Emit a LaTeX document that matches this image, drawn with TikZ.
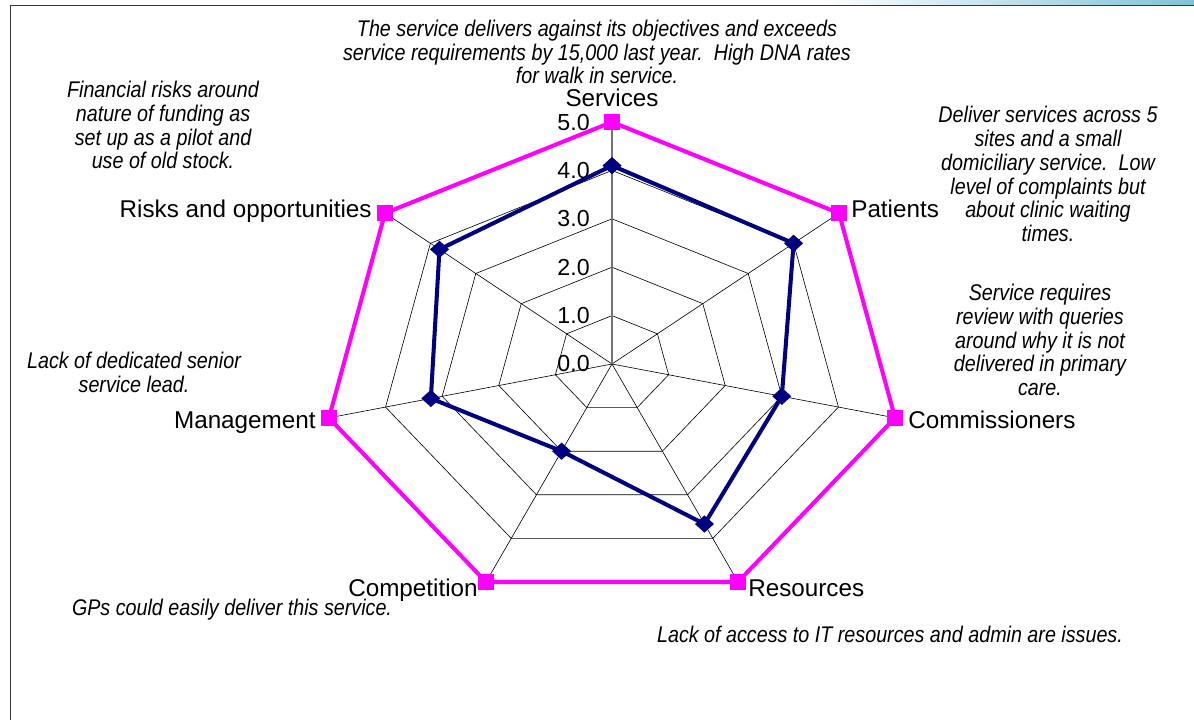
\documentclass[tikz,border=0pt]{standalone}
\usepackage{fontspec}
\setmainfont{Liberation Sans}
\newfontfamily\notefont[FakeStretch=0.87]{Liberation Sans}
\usetikzlibrary{shapes.geometric, positioning, calc}
\definecolor{scoreblue}{RGB}{0,0,128}
\definecolor{targetpink}{RGB}{255,0,255}
\definecolor{stripblue}{RGB}{128,194,214}
\definecolor{framegray}{RGB}{55,55,55}
\tikzset{
    gridline/.style={black, line width=0.35pt},
    valueaxis/.style={black!55, line width=0.6pt},
    ticklabel/.style={font=\fontsize{13.2}{16}\selectfont, anchor=east, inner sep=0pt},
    catlabel/.style={font=\fontsize{13.8}{16}\selectfont, inner sep=0pt, text depth=0pt},
    notebox/.style={font=\notefont\itshape\fontsize{12.9}{13.6}\selectfont, align=center, inner sep=0pt},
}

\begin{document}
\begin{tikzpicture}[
  x=0.02cm, y=-0.02cm,
  % Scored series (navy, diamonds)
  scoreline/.style={scoreblue, line width=2.3pt, line join=round},
  scoremark/.style={diamond, fill=scoreblue, minimum width=11pt, minimum height=10pt, inner sep=0pt},
  % Target series (magenta, squares)
  targetline/.style={targetpink, line width=2.3pt},
  targetmark/.style={rectangle, fill=targetpink, minimum size=8.8pt, inner sep=0pt}
]
\useasboundingbox (0,0) rectangle (1194,720);

% Slide frame
\shade[left color=white, right color=stripblue] (820,0) rectangle (1194,4.5);
\draw[framegray, line width=1.1pt] (10.5,720) -- (10.5,5.5) -- (1194,5.5);

% Radar chart
\begin{scope}[shift={(612,364)}, x=1.1616cm, y=0.968cm]
  \coordinate (centre) at (0,0);
  \foreach \r in {1,...,5}
    \draw[gridline] (90:\r) \foreach \k in {1,...,6} { -- ({90-\k*360/7}:\r) } -- cycle;
  \foreach \k in {1,...,6}
    \draw[gridline] (centre) -- ({90-\k*360/7}:5);
  \draw[valueaxis] (centre) -- (90:5);
  \foreach \r in {0,...,5}
    \node[ticklabel, xshift=-4.4mm] (tick\r) at (0,\r) {\r.0};

  \foreach \name/\val [count=\i from 0] in {svc/4.1, pat/4.0, com/3.0, res/3.67, cmp/2.0, mgt/3.2, rsk/3.8} {
    \coordinate (\name-s) at ({90-\i*360/7}:\val);
    \coordinate (\name-t) at ({90-\i*360/7}:5);
  }
\end{scope}

% Target line
\draw[targetline] (svc-t) -- (pat-t) -- (com-t) -- (res-t) -- (cmp-t) -- (mgt-t) -- (rsk-t) -- cycle;
\foreach \name in {svc,pat,com,res,cmp,mgt,rsk}
  \node[targetmark] (\name-tm) at (\name-t) {};

% Score line
\draw[scoreline] (svc-s) -- (pat-s) -- (com-s) -- (res-s) -- (cmp-s) -- (mgt-s) -- (rsk-s) -- cycle;
\foreach \name in {svc,pat,com,res,cmp,mgt,rsk}
  \node[scoremark] (\name-sm) at (\name-s) {};

% Category labels
\node[catlabel, above=3mm of svc-t] (services) {Services};
\node[catlabel, right=2.4mm of pat-t, yshift=0.8mm] (patients) {Patients};
\node[catlabel, right=2.6mm of com-t, yshift=-0.4mm] (commissioners) {Commissioners};
\node[catlabel, right=2mm of res-t, yshift=-1.2mm] (resources) {Resources};
\node[catlabel, left=1.6mm of cmp-t, yshift=-1.2mm] (competition) {Competition};
\node[catlabel, left=2.6mm of mgt-t, yshift=-0.4mm] (management) {Management};
\node[catlabel, left=2.6mm of rsk-t, yshift=0.8mm] (risks) {Risks and opportunities};

% Comments on each area
\node[notebox] (svcnote) at (597,52) {The service delivers against its objectives and exceeds\\service requirements by 15,000 last year.\ \ High DNA rates\\for walk in service.};
\node[notebox] (rsknote) at (163,125) {Financial risks around\\nature of funding as\\set up as a pilot and\\use of old stock.};
\node[notebox] (patnote) at (1048,174) {Deliver services across 5\\sites and a small\\domiciliary service.\ \ Low\\level of complaints but\\about clinic waiting\\times.};
\node[notebox] (comnote) at (1040,340) {Service requires\\review with queries\\around why it is not\\delivered in primary\\care.};
\node[notebox] (mgtnote) at (134,372) {Lack of dedicated senior\\service lead.};
\node[notebox] (cmpnote) at (232,610) {GPs could easily deliver this service.};
\node[notebox] (resnote) at (890,634) {Lack of access to IT resources and admin are issues.};
\end{tikzpicture}
\end{document}
